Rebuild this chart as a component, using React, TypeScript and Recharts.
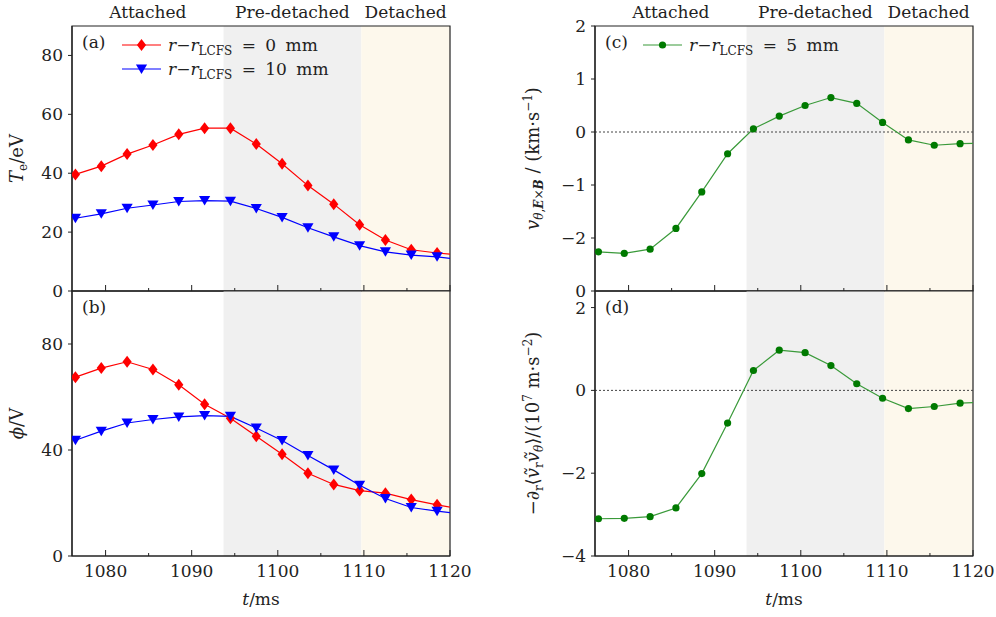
import React from 'react';
import { LineChart, Line, XAxis, YAxis, ReferenceArea, ReferenceLine, Legend } from 'recharts';

// sample times (ms); the last one sits just past the right edge and gets clipped
const times = [1076.5, 1079.5, 1082.5, 1085.5, 1088.5, 1091.5, 1094.5, 1097.5, 1100.5, 1103.5, 1106.5, 1109.5, 1112.5, 1115.5, 1118.5, 1121.5];

const teSep = [39.6, 42.4, 46.5, 49.6, 53.2, 55.3, 55.3, 49.9, 43.2, 35.8, 29.5, 22.5, 17.3, 14.0, 12.9, 12.1];
const teFar = [24.7, 26.2, 28.1, 29.2, 30.4, 30.7, 30.5, 28.0, 25.0, 21.5, 18.4, 15.4, 13.3, 12.2, 11.6, 10.6];
const phiSep = [67.5, 70.9, 73.3, 70.4, 64.6, 57.3, 52.0, 45.2, 38.4, 31.2, 27.0, 24.7, 23.7, 21.3, 19.3, 17.6];
const phiFar = [43.7, 47.1, 50.2, 51.5, 52.5, 53.0, 52.7, 48.3, 43.6, 37.9, 32.5, 26.7, 21.7, 18.3, 16.9, 15.8];
const vExB = [-2.26, -2.29, -2.21, -1.82, -1.13, -0.41, 0.06, 0.3, 0.5, 0.65, 0.54, 0.18, -0.15, -0.25, -0.22, -0.21];
const reynolds = [-3.1, -3.09, -3.05, -2.84, -2.01, -0.79, 0.48, 0.97, 0.91, 0.6, 0.16, -0.19, -0.44, -0.39, -0.31, -0.28];

const phaseNames = ['Attached', 'Pre-detached', 'Detached'];
const phaseEdges = [1076.1, 1093.7, 1109.7, 1120];
const phaseFills = ['#ffffff', '#f0f0f0', '#fdf8ec'];

const xDomain: [number, number] = [1076.1, 1120];
const xTicks = [1080, 1085, 1090, 1095, 1100, 1105, 1110, 1115, 1120];
const teTicks = [0, 20, 40, 60, 80];
const phiTicks = [0, 40, 80];
const vTicks = [-3, -2, -1, 0, 1, 2];
const rsTicks = [-4, -2, 0, 2];

const FONT = '"DejaVu Serif", serif';
const INK = '#222';
const FS = 17;

const data = times.map((t, i) => ({
  t,
  teSep: teSep[i],
  teFar: teFar[i],
  phiSep: phiSep[i],
  phiFar: phiFar[i],
  vExB: vExB[i],
  reynolds: reynolds[i],
}));

const cols = [
  { left: 72, right: 450 },
  { left: 595, right: 973 },
];
const rowsY = [
  { top: 26, bottom: 291 },
  { top: 291, bottom: 556 },
];
const YW = 50;
const XH = 30;

type Marker = 'diamond' | 'tri' | 'circle';

function markerShape(kind: Marker, x: number, y: number, color: string, key?: any) {
  if (kind === 'diamond')
    return <path key={key} d={`M${x},${y - 6}L${x + 4.6},${y}L${x},${y + 6}L${x - 4.6},${y}Z`} fill={color} />;
  if (kind === 'tri')
    return <path key={key} d={`M${x - 5.6},${y - 4.5}L${x + 5.6},${y - 4.5}L${x},${y + 5}Z`} fill={color} />;
  return <circle key={key} cx={x} cy={y} r={3.6} fill={color} />;
}

const rLabel = (mm: string) => (
  <span style={{ wordSpacing: 4 }}>
    <i>r</i>−<i>r</i>
    <span style={{ fontSize: 12, verticalAlign: '-0.3em', lineHeight: 0 }}>LCFS</span> = {mm} mm
  </span>
);

type Series = { key: string; color: string; dotColor: string; marker: Marker; label: React.ReactNode };

const seriesA: Series[] = [
  { key: 'teSep', color: '#ff0000', dotColor: '#ff0000', marker: 'diamond', label: rLabel('0') },
  { key: 'teFar', color: '#0000ff', dotColor: '#0000ff', marker: 'tri', label: rLabel('10') },
];
const seriesB: Series[] = [
  { key: 'phiSep', color: '#ff0000', dotColor: '#ff0000', marker: 'diamond', label: '' },
  { key: 'phiFar', color: '#0000ff', dotColor: '#0000ff', marker: 'tri', label: '' },
];
const seriesC: Series[] = [
  { key: 'vExB', color: '#3a9a3a', dotColor: '#007a00', marker: 'circle', label: rLabel('5') },
];
const seriesD: Series[] = [
  { key: 'reynolds', color: '#3a9a3a', dotColor: '#007a00', marker: 'circle', label: '' },
];

function XTick(props: any) {
  const { x, y, payload, showLabel } = props;
  const major = payload.value % 10 === 0;
  return (
    <g>
      <line x1={x} x2={x} y1={y} y2={y - (major ? 6 : 3)} stroke={INK} strokeWidth={1} />
      {showLabel && major ? (
        <text x={x} y={y + 21} textAnchor="middle" fontFamily={FONT} fontSize={FS} fill={INK}>
          {payload.value}
        </text>
      ) : null}
    </g>
  );
}

const minus = (v: number) => String(v).replace('-', '−');

function LegendBox({ series }: { series: Series[] }) {
  return (
    <div style={{ fontFamily: FONT, fontSize: FS, color: INK }}>
      {series.map((s) => (
        <div key={s.key} style={{ display: 'flex', alignItems: 'center', height: 24, whiteSpace: 'nowrap' }}>
          <svg width={39} height={16} style={{ display: 'block' }}>
            <line x1={0} x2={39} y1={8} y2={8} stroke={s.color} strokeWidth={1.2} />
            {markerShape(s.marker, 19.5, 8, s.dotColor)}
          </svg>
          <span style={{ marginLeft: 7 }}>{s.label}</span>
        </div>
      ))}
    </div>
  );
}

function Panel({
  col,
  row,
  tag,
  series,
  yDomain,
  yTicks,
  yFormat,
  yLabel,
  zeroLine,
  legendAt,
}: {
  col: number;
  row: number;
  tag: string;
  series: Series[];
  yDomain: [number, number];
  yTicks: number[];
  yFormat?: (v: number) => string;
  yLabel: React.ReactNode;
  zeroLine?: boolean;
  legendAt?: { left: number; top: number };
}) {
  const c = cols[col];
  const r = rowsY[row];
  const margin = { top: r.top, bottom: 617 - r.bottom - XH, left: c.left - YW, right: 996 - c.right };
  const midY = (r.top + r.bottom) / 2;
  const midX = (c.left + c.right) / 2;
  const labelX = col === 0 ? 23 : 539;
  return (
    <div style={{ position: 'absolute', left: 0, top: 0 }}>
      <LineChart width={996} height={617} data={data} margin={margin}>
        {phaseNames.map((name, i) => (
          <ReferenceArea
            key={name}
            x1={phaseEdges[i]}
            x2={phaseEdges[i + 1]}
            y1={yDomain[0]}
            y2={yDomain[1]}
            fill={phaseFills[i]}
            fillOpacity={i === 0 ? 0 : 1}
            stroke="none"
            label={
              row === 0
                ? { value: name, position: 'top', offset: 8, fontFamily: FONT, fontSize: FS, fill: INK }
                : undefined
            }
          />
        ))}
        <XAxis
          dataKey="t"
          type="number"
          domain={xDomain}
          allowDataOverflow
          ticks={xTicks}
          interval={0}
          tickSize={0}
          tickMargin={0}
          tickLine={false}
          height={XH}
          axisLine={{ stroke: INK, strokeWidth: 1.2 }}
          tick={(p: any) => <XTick {...p} showLabel={row === 1} />}
          label={
            row === 1
              ? {
                  content: () => (
                    <text x={midX} y={605} textAnchor="middle" fontFamily={FONT} fontSize={FS} fill={INK}>
                      <tspan fontStyle="italic">t</tspan>/ms
                    </text>
                  ),
                }
              : undefined
          }
        />
        <YAxis
          type="number"
          domain={yDomain}
          allowDataOverflow
          ticks={yTicks}
          interval={0}
          width={YW}
          tickSize={4}
          tickMargin={5}
          tickFormatter={yFormat ?? minus}
          tick={{ fontFamily: FONT, fontSize: FS, fill: INK }}
          tickLine={{ stroke: INK }}
          axisLine={{ stroke: INK, strokeWidth: 1.2 }}
          label={{
            content: () => (
              <text
                transform={`translate(${labelX},${midY}) rotate(-90)`}
                textAnchor="middle"
                fontFamily={FONT}
                fontSize={18}
                fill={INK}
              >
                {yLabel}
              </text>
            ),
          }}
        />
        {zeroLine ? <ReferenceLine y={0} stroke="#444" strokeDasharray="2 2" strokeWidth={1} /> : null}
        {series.map((s) => (
          <Line
            key={s.key}
            dataKey={s.key}
            type="linear"
            stroke={s.color}
            strokeWidth={1.2}
            isAnimationActive={false}
            dot={(p: any) =>
              p.payload.t > xDomain[1] ? <g key={p.index} /> : markerShape(s.marker, p.cx, p.cy, s.dotColor, p.index)
            }
            activeDot={false}
          />
        ))}
        <ReferenceArea
          x1={xDomain[0]}
          x2={xDomain[1]}
          y1={yDomain[0]}
          y2={yDomain[1]}
          fill="none"
          stroke={INK}
          strokeWidth={1.2}
          label={{ value: tag, position: 'insideTopLeft', offset: 10, fontFamily: FONT, fontSize: FS, fill: INK }}
        />
        {legendAt ? (
          <Legend
            layout="vertical"
            align="center"
            verticalAlign="middle"
            wrapperStyle={{ left: legendAt.left, top: legendAt.top, width: 260, height: 'auto' }}
            content={() => <LegendBox series={series} />}
          />
        ) : null}
      </LineChart>
    </div>
  );
}

export default function App() {
  return (
    <div style={{ position: 'absolute', left: 0, top: 0, width: 996, height: 617, background: '#fff' }}>
      <Panel
        col={0}
        row={0}
        tag="(a)"
        series={seriesA}
        yDomain={[0, 90]}
        yTicks={teTicks}
        legendAt={{ left: 122, top: 33 }}
        yLabel={
          <>
            <tspan fontStyle="italic">T</tspan>
            <tspan fontSize={12} dy={4}>e</tspan>
            <tspan dy={-4}>/eV</tspan>
          </>
        }
      />
      <Panel
        col={0}
        row={1}
        tag="(b)"
        series={seriesB}
        yDomain={[0, 100]}
        yTicks={phiTicks}
        yLabel={
          <>
            <tspan fontStyle="italic">ϕ</tspan>/V
          </>
        }
      />
      <Panel
        col={1}
        row={0}
        tag="(c)"
        series={seriesC}
        yDomain={[-3, 2]}
        yTicks={vTicks}
        yFormat={(v) => (v === -3 ? '0' : minus(v))}
        zeroLine
        legendAt={{ left: 643, top: 33 }}
        yLabel={
          <>
            <tspan fontStyle="italic">v</tspan>
            <tspan fontSize={12} dy={4}>
              <tspan fontStyle="italic">θ</tspan>,<tspan fontStyle="italic" fontWeight="bold">E</tspan>×
              <tspan fontStyle="italic" fontWeight="bold">B</tspan>
            </tspan>
            <tspan dy={-4}> / (km·s</tspan>
            <tspan fontSize={12} dy={-7}>
              −1
            </tspan>
            <tspan dy={7}>)</tspan>
          </>
        }
      />
      <Panel
        col={1}
        row={1}
        tag="(d)"
        series={seriesD}
        yDomain={[-4, 2.4]}
        yTicks={rsTicks}
        zeroLine
        yLabel={
          <>
            <tspan>−∂</tspan>
            <tspan fontSize={12} dy={4}>r</tspan>
            <tspan dy={-4}>⟨</tspan>
            <tspan fontStyle="italic">ṽ</tspan>
            <tspan fontSize={12} dy={4}>r</tspan>
            <tspan dy={-4} fontStyle="italic">ṽ</tspan>
            <tspan fontSize={12} dy={4} fontStyle="italic">θ</tspan>
            <tspan dy={-4}>⟩/(10</tspan>
            <tspan fontSize={12} dy={-7}>
              7
            </tspan>
            <tspan dy={7}> m·s</tspan>
            <tspan fontSize={12} dy={-7}>
              −2
            </tspan>
            <tspan dy={7}>)</tspan>
          </>
        }
      />
    </div>
  );
}
